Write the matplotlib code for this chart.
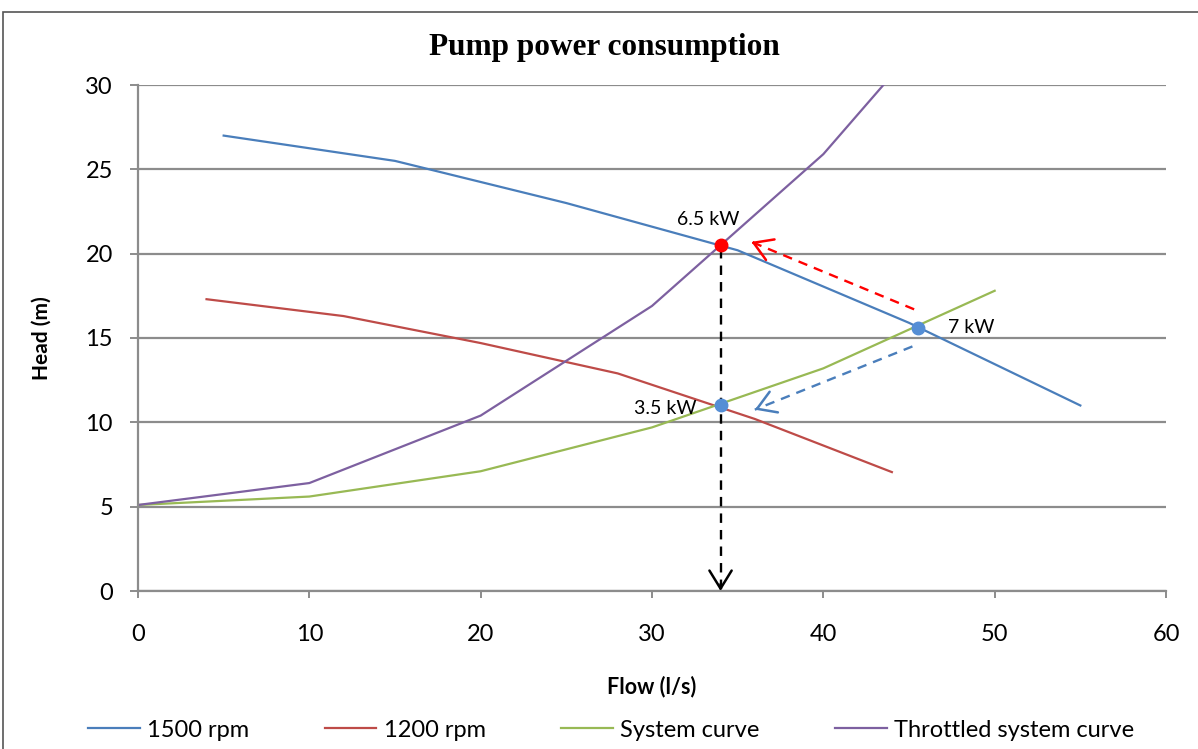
import matplotlib
matplotlib.use("Agg")
import matplotlib.pyplot as plt
from matplotlib.patches import Rectangle

# data
flow_1500 = [5, 15, 25, 35, 45, 55]
head_1500 = [27.0, 25.5, 23.0, 20.2, 15.9, 11.0]

flow_1200 = [4, 12, 20, 28, 36, 44]
head_1200 = [17.3, 16.3, 14.7, 12.9, 10.2, 7.05]

flow_sys = [0, 10, 20, 30, 40, 50]
head_sys = [5.1, 5.6, 7.1, 9.7, 13.2, 17.8]

flow_thr = [0, 10, 20, 30, 40, 50]
head_thr = [5.1, 6.4, 10.4, 16.9, 25.9, 37.6]

# operating points: (flow, head, label)
op_throttled = (34.0, 20.5, "6.5 kW")
op_full = (45.5, 15.6, "7 kW")
op_reduced = (34.0, 11.0, "3.5 kW")

# dashed arrows: (start, tip, colour)
arrows = [((45.3, 16.7), (35.8, 20.7), "red"),
          ((45.2, 14.5), (36.0, 10.75), "#4A7EBB"),
          ((34.0, 20.3), (34.0, 0.0), "black")]

series_names = ["1500 rpm", "1200 rpm", "System curve", "Throttled system curve"]
series_colors = ["#4A7EBB", "#BE4B48", "#98B954", "#7D60A0"]

plt.rcParams["font.family"] = ["Lato", "DejaVu Sans"]

fig = plt.figure(figsize=(11.98, 7.49), dpi=100)
ax = fig.add_axes([138 / 1198, 1 - 591 / 749, (1166 - 138) / 1198, (591 - 85) / 749])

# chart frame (Excel chart area border)
fig.patches.append(Rectangle((2.5 / 1198, -0.05), 1.1, 1 - 12 / 749 + 0.05,
                             transform=fig.transFigure, fill=False,
                             edgecolor="#555555", linewidth=1.2))

data = [(flow_1500, head_1500), (flow_1200, head_1200),
        (flow_sys, head_sys), (flow_thr, head_thr)]
for (fx, hy), name, col in zip(data, series_names, series_colors):
    ax.plot(fx, hy, color=col, linewidth=1.6, label=name)

# dashed shafts with solid open heads
for (x0, y0), (x1, y1), col in arrows:
    ax.plot([x0, x1], [y0, y1], color=col, linestyle=(0, (4, 3)), linewidth=1.7)
    ax.annotate("", xy=(x1, y1), xytext=(x1 + (x0 - x1) * 0.02, y1 + (y0 - y1) * 0.02),
                arrowprops=dict(arrowstyle="->,head_length=1.3,head_width=0.8",
                                color=col, linewidth=1.8, shrinkA=0, shrinkB=0))

# operating point markers
ax.plot(op_throttled[0], op_throttled[1], "o", color="#FF0000", markersize=9, zorder=5)
ax.plot(op_full[0], op_full[1], "o", color="#558ED5", markersize=9, zorder=5)
ax.plot(op_reduced[0], op_reduced[1], "o", color="#558ED5", markersize=9, zorder=5)

ax.text(op_throttled[0] - 0.7, op_throttled[1] + 1.0, op_throttled[2],
        ha="center", va="bottom", fontsize=14)
ax.text(op_full[0] + 1.8, op_full[1], op_full[2],
        ha="left", va="center", fontsize=14)
ax.text(op_reduced[0] - 1.4, op_reduced[1] - 0.2, op_reduced[2],
        ha="right", va="center", fontsize=14)

ax.set_xlim(0, 60)
ax.set_ylim(0, 30)
ax.set_xticks(range(0, 61, 10))
ax.set_yticks(range(0, 31, 5))
ax.grid(axis="y", color="#8C8C8C", linewidth=1.6)
ax.set_axisbelow(True)
for s in ["top", "right"]:
    ax.spines[s].set_visible(False)
for s in ["left", "bottom"]:
    ax.spines[s].set_color("#8C8C8C")
    ax.spines[s].set_linewidth(1.6)
ax.tick_params(axis="x", direction="out", length=5, width=1.4, color="#8C8C8C",
               labelsize=17, pad=19)
ax.tick_params(axis="y", direction="out", length=6, width=1.4, color="#8C8C8C",
               labelsize=17, pad=12)

ax.set_xlabel("Flow (l/s)", fontsize=15.5, fontweight="bold", labelpad=22)
ax.set_ylabel("Head (m)", fontsize=15, fontweight="bold", labelpad=24)

fig.text(604 / 1198, 1 - 48 / 749, "Pump power consumption",
         ha="center", va="center", fontsize=22.5, fontweight="bold",
         family=["Liberation Serif", "DejaVu Serif"])

ax.legend(loc="center left", bbox_to_anchor=(-0.0695, -0.275), ncol=4, frameon=False,
          fontsize=17, handlelength=2.2, handletextpad=0.3, columnspacing=3.2)

fig.savefig("out.png", dpi=100)
